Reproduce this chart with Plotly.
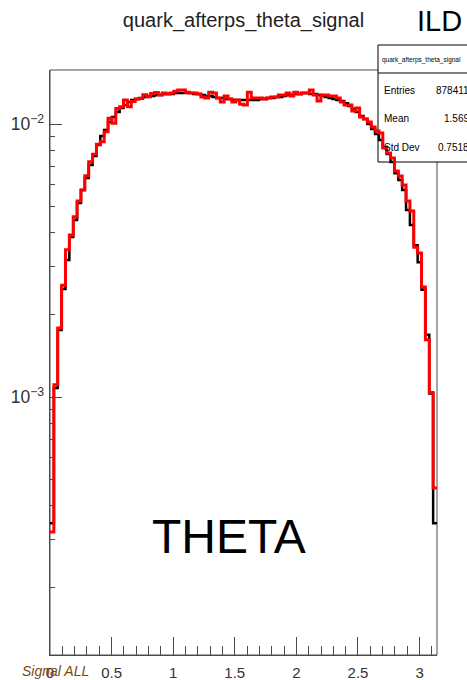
import numpy as np
import plotly.graph_objects as go

# Binning of the polar angle histograms
n_bins = 100
theta_min, theta_max = 0.0, np.pi

# Normalised bin contents, all quarks (black)
theta_all = [
    0.000345, 0.00108, 0.00176, 0.00249, 0.00318, 0.00386, 0.00445, 0.00514, 0.00573, 0.00634,
    0.00708, 0.00764, 0.00838, 0.00904, 0.00951, 0.01017, 0.01061, 0.01106, 0.01144, 0.01174,
    0.01204, 0.01224, 0.01234, 0.01245, 0.01255, 0.01266, 0.01266, 0.01277, 0.01277, 0.01288,
    0.01288, 0.01288, 0.01299, 0.01299, 0.01299, 0.01299, 0.01299, 0.01288, 0.01288, 0.01277,
    0.01266, 0.01266, 0.01255, 0.01245, 0.01245, 0.01234, 0.01234, 0.01224, 0.01224, 0.01224,
    0.01224, 0.01224, 0.01224, 0.01224, 0.01234, 0.01234, 0.01245, 0.01245, 0.01255, 0.01255,
    0.01266, 0.01277, 0.01277, 0.01288, 0.01288, 0.01299, 0.01299, 0.01288, 0.01288, 0.01277,
    0.01266, 0.01255, 0.01245, 0.01234, 0.01224, 0.01214, 0.01193, 0.01164, 0.01135, 0.01106,
    0.01070, 0.01043, 0.01000, 0.00959, 0.00919, 0.00874, 0.00824, 0.00777, 0.00726, 0.00661,
    0.00624, 0.00573, 0.00484, 0.00427, 0.00360, 0.00312, 0.00247, 0.00169, 0.00103, 0.000345,
]

# Normalised bin contents, quarks after parton shower (red)
theta_afterps = [
    0.00032, 0.00111, 0.00179, 0.00257, 0.00346, 0.00392, 0.00458, 0.00522, 0.00573, 0.00647,
    0.00728, 0.00775, 0.00843, 0.00861, 0.00937, 0.01050, 0.01006, 0.01140, 0.01156, 0.01224,
    0.01156, 0.01210, 0.01234, 0.01240, 0.01280, 0.01258, 0.01295, 0.01306, 0.01277, 0.01299,
    0.01288, 0.01299, 0.01320, 0.01332, 0.01332, 0.01309, 0.01299, 0.01299, 0.01288, 0.01255,
    0.01245, 0.01309, 0.01299, 0.01245, 0.01204, 0.01266, 0.01234, 0.01204, 0.01224, 0.01183,
    0.01174, 0.01309, 0.01245, 0.01245, 0.01245, 0.01234, 0.01245, 0.01255, 0.01255, 0.01277,
    0.01277, 0.01299, 0.01266, 0.01309, 0.01288, 0.01299, 0.01299, 0.01332, 0.01277, 0.01214,
    0.01277, 0.01277, 0.01266, 0.01266, 0.01245, 0.01204, 0.01174, 0.01174, 0.01116, 0.01144,
    0.01061, 0.01043, 0.01017, 0.00975, 0.00943, 0.00927, 0.00817, 0.00783, 0.00751, 0.00673,
    0.00645, 0.00598, 0.00522, 0.00480, 0.00354, 0.00337, 0.00253, 0.00162, 0.00104, 0.000464,
]

# Statistics box entries
stats_name = "quark_afterps_theta_signal"
stats_labels = ["Entries", "Mean", "Std Dev"]
stats_values = ["878411", "1.569", "0.7518"]

FONT = "Liberation Sans, Arial, Helvetica, sans-serif"
AXIS_COLOR = "#4a4a4a"

edges = np.linspace(theta_min, theta_max, n_bins + 1)


def step_xy(vals):
    vals = np.asarray(vals, dtype=float)
    return np.append(edges[:-1], edges[-1]), np.append(vals, vals[-1])


fig = go.Figure()
for vals, color, width in [(theta_all, "#000000", 2.5), (theta_afterps, "#ff0000", 3)]:
    x, y = step_xy(vals)
    fig.add_trace(go.Scatter(
        x=x, y=y, mode="lines",
        line=dict(color=color, width=width, shape="hv"),
        hoverinfo="skip", showlegend=False,
    ))


def px_x(px):
    return (px - 50) / 387.0


def px_y(py):
    return (655 - py) / 585.0


shapes = [
    # plot frame
    dict(type="rect", xref="paper", yref="paper", x0=0, x1=1, y0=0, y1=1,
         line=dict(color=AXIS_COLOR, width=1), fillcolor="rgba(0,0,0,0)", layer="below"),
    # statistics box
    dict(type="rect", xref="paper", yref="paper", x0=px_x(378), x1=px_x(480),
         y0=px_y(162), y1=px_y(45), line=dict(color="#000000", width=1),
         fillcolor="#ffffff", layer="below"),
    dict(type="line", xref="paper", yref="paper", x0=px_x(378), x1=px_x(480),
         y0=px_y(73), y1=px_y(73), line=dict(color="#000000", width=1), layer="below"),
]

annotations = [
    dict(text="ILD", x=px_x(439.5), y=px_y(21), font=dict(size=29, color="#000000")),
    dict(text="THETA", x=px_x(229), y=px_y(536), font=dict(size=48, color="#000000")),
    dict(text="<i>Signal ALL</i>", x=px_x(20), y=px_y(671), xanchor="left",
         font=dict(size=14, color="#7b4a14")),
    dict(text=stats_name, x=px_x(380), y=px_y(60), xanchor="left",
         font=dict(size=6.5, color="#000000")),
]
for label, value, py in zip(stats_labels, stats_values, [90, 118, 147]):
    annotations.append(dict(text=label, x=px_x(382), y=px_y(py), xanchor="left",
                            font=dict(size=10, color="#000000")))
    annotations.append(dict(text=value, x=px_x(471), y=px_y(py), xanchor="right",
                            font=dict(size=10, color="#000000")))
for a in annotations:
    a.update(xref="paper", yref="paper", showarrow=False,
             yanchor=a.get("yanchor", "middle"), xanchor=a.get("xanchor", "center"))

fig.update_layout(
    width=467, height=680,
    margin=dict(l=50, r=30, t=70, b=25, autoexpand=False),
    paper_bgcolor="#ffffff", plot_bgcolor="rgba(0,0,0,0)",
    font=dict(family=FONT, color="#222222"),
    showlegend=False,
    title=dict(text="quark_afterps_theta_signal", x=0.5, xref="paper", xanchor="center",
               y=1 - 20 / 680, yref="container", yanchor="middle", automargin=False,
               font=dict(size=20, color="#222222", family=FONT)),
    xaxis=dict(
        range=[theta_min, theta_max], tick0=0, dtick=0.5, automargin=False,
        ticks="inside", ticklen=18, tickwidth=1, tickcolor=AXIS_COLOR,
        showline=True, linecolor=AXIS_COLOR, linewidth=1,
        showgrid=False, zeroline=False,
        tickfont=dict(size=15, color="#333333", family=FONT),
        ticklabelstandoff=4,
        minor=dict(dtick=0.1, tick0=0, ticks="inside", ticklen=9,
                   tickwidth=1, tickcolor=AXIS_COLOR, showgrid=False),
    ),
    yaxis=dict(
        type="log", range=[-3.945, -1.802], dtick=1, automargin=False,
        exponentformat="power", showexponent="all",
        ticks="inside", ticklen=12, tickwidth=1, tickcolor=AXIS_COLOR,
        showline=True, linecolor=AXIS_COLOR, linewidth=1,
        showgrid=False, zeroline=False,
        tickfont=dict(size=14, color="#333333", family=FONT),
        ticklabelstandoff=2,
        minor=dict(ticks="inside", ticklen=5, tickwidth=1,
                   tickcolor=AXIS_COLOR, showgrid=False),
    ),
    shapes=shapes,
    annotations=annotations,
)

fig.write_html("out.html")
